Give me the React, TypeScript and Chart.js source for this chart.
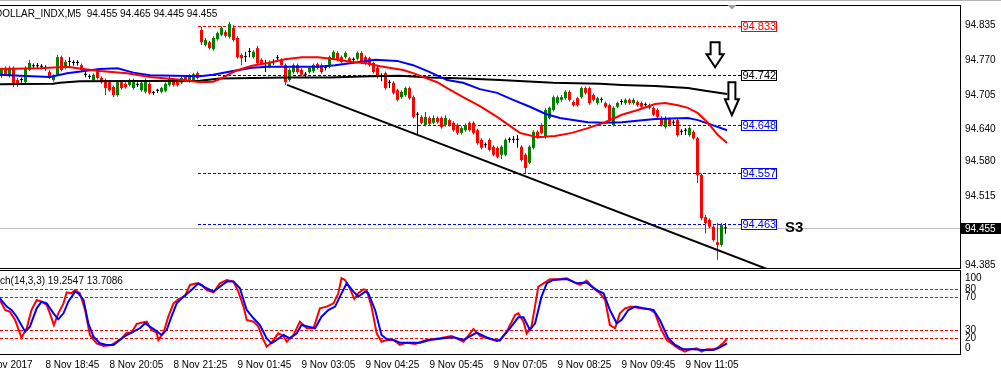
import React, { useEffect, useRef } from 'react';
import { Chart, registerables } from 'chart.js';

Chart.register(...registerables);

const FONT = '"Liberation Sans", Arial, sans-serif';

// ---------- data ----------
const SYMBOL_TITLE = 'DOLLAR_INDX,M5';
const STOCH_TITLE = 'Stoch(14,3,3)';
const STOCH_LAST = [19.2547, 13.7086];

const OPEN = [
  94.741, 94.756, 94.741, 94.756, 94.733, 94.733, 94.729, 94.752, 94.759, 94.759,
  94.758, 94.756, 94.748, 94.733, 94.743, 94.776, 94.756, 94.767, 94.765, 94.765,
  94.761, 94.743, 94.739, 94.733, 94.752, 94.737, 94.733, 94.729, 94.720, 94.705,
  94.729, 94.726, 94.724, 94.718, 94.724, 94.714, 94.711, 94.726, 94.709, 94.713,
  94.711, 94.713, 94.724, 94.733, 94.731, 94.728, 94.739, 94.731, 94.733, 94.746,
  94.827, 94.799, 94.804, 94.791, 94.810, 94.818, 94.823, 94.814, 94.831, 94.812,
  94.780, 94.776, 94.786, 94.776, 94.793, 94.771, 94.758, 94.758, 94.767, 94.774,
  94.771, 94.761, 94.733, 94.748, 94.761, 94.752, 94.743, 94.748, 94.750, 94.763,
  94.761, 94.756, 94.758, 94.774, 94.784, 94.776, 94.776, 94.774, 94.771, 94.773,
  94.784, 94.776, 94.774, 94.765, 94.756, 94.739, 94.746, 94.728, 94.728, 94.714,
  94.701, 94.705, 94.718, 94.701, 94.668, 94.664, 94.649, 94.662, 94.653, 94.662,
  94.662, 94.649, 94.658, 94.653, 94.649, 94.634, 94.639, 94.653, 94.653, 94.639,
  94.621, 94.611, 94.621, 94.608, 94.606, 94.593, 94.593, 94.621, 94.621, 94.621,
  94.608, 94.593, 94.578, 94.606, 94.636, 94.649, 94.626, 94.662, 94.677, 94.690,
  94.696, 94.699, 94.711, 94.692, 94.699, 94.701, 94.718, 94.718, 94.705, 94.690,
  94.696, 94.690, 94.686, 94.649, 94.683, 94.692, 94.690, 94.696, 94.690, 94.692,
  94.690, 94.686, 94.686, 94.681, 94.677, 94.662, 94.645, 94.660, 94.653, 94.658,
  94.636, 94.638, 94.630, 94.636, 94.624, 94.555, 94.476, 94.471, 94.458, 94.429,
  94.424, 94.455,
];
const HIGH = [
  94.756, 94.759, 94.760, 94.759, 94.737, 94.738, 94.759, 94.771, 94.764, 94.765,
  94.763, 94.761, 94.752, 94.744, 94.780, 94.779, 94.771, 94.776, 94.770, 94.770,
  94.764, 94.748, 94.744, 94.746, 94.755, 94.740, 94.736, 94.732, 94.723, 94.732,
  94.732, 94.729, 94.736, 94.736, 94.729, 94.731, 94.736, 94.729, 94.713, 94.717,
  94.721, 94.729, 94.741, 94.737, 94.735, 94.740, 94.742, 94.744, 94.747, 94.749,
  94.833, 94.812, 94.807, 94.815, 94.824, 94.834, 94.827, 94.842, 94.836, 94.815,
  94.783, 94.786, 94.793, 94.789, 94.797, 94.774, 94.771, 94.770, 94.772, 94.780,
  94.774, 94.764, 94.755, 94.764, 94.764, 94.755, 94.748, 94.759, 94.764, 94.766,
  94.764, 94.761, 94.779, 94.789, 94.787, 94.779, 94.787, 94.777, 94.776, 94.787,
  94.787, 94.779, 94.777, 94.768, 94.759, 94.746, 94.749, 94.733, 94.731, 94.717,
  94.714, 94.721, 94.721, 94.704, 94.673, 94.667, 94.673, 94.665, 94.667, 94.665,
  94.665, 94.667, 94.661, 94.656, 94.652, 94.646, 94.652, 94.656, 94.656, 94.642,
  94.624, 94.616, 94.624, 94.611, 94.609, 94.611, 94.624, 94.626, 94.628, 94.630,
  94.611, 94.596, 94.611, 94.639, 94.639, 94.652, 94.680, 94.684, 94.704, 94.704,
  94.705, 94.714, 94.714, 94.695, 94.702, 94.721, 94.721, 94.721, 94.708, 94.702,
  94.701, 94.693, 94.689, 94.684, 94.693, 94.697, 94.699, 94.699, 94.699, 94.695,
  94.693, 94.691, 94.689, 94.684, 94.680, 94.665, 94.665, 94.663, 94.658, 94.661,
  94.641, 94.643, 94.646, 94.639, 94.627, 94.558, 94.480, 94.474, 94.461, 94.465,
  94.465, 94.465,
];
const LOW = [
  94.737, 94.741, 94.738, 94.720, 94.720, 94.728, 94.726, 94.750, 94.754, 94.755,
  94.753, 94.751, 94.735, 94.730, 94.741, 94.749, 94.753, 94.756, 94.760, 94.760,
  94.749, 94.738, 94.735, 94.730, 94.734, 94.726, 94.705, 94.711, 94.701, 94.702,
  94.715, 94.717, 94.721, 94.715, 94.720, 94.711, 94.708, 94.706, 94.705, 94.709,
  94.708, 94.710, 94.721, 94.721, 94.721, 94.725, 94.730, 94.728, 94.730, 94.734,
  94.799, 94.796, 94.790, 94.788, 94.807, 94.815, 94.813, 94.811, 94.805, 94.773,
  94.761, 94.767, 94.776, 94.773, 94.762, 94.762, 94.748, 94.755, 94.762, 94.767,
  94.758, 94.724, 94.730, 94.745, 94.745, 94.740, 94.738, 94.745, 94.747, 94.753,
  94.745, 94.751, 94.755, 94.771, 94.768, 94.764, 94.773, 94.764, 94.766, 94.770,
  94.764, 94.762, 94.758, 94.745, 94.736, 94.731, 94.715, 94.718, 94.706, 94.693,
  94.698, 94.702, 94.696, 94.661, 94.630, 94.650, 94.646, 94.648, 94.650, 94.651,
  94.642, 94.646, 94.646, 94.636, 94.630, 94.631, 94.636, 94.636, 94.631, 94.612,
  94.603, 94.606, 94.599, 94.590, 94.586, 94.585, 94.590, 94.616, 94.615, 94.606,
  94.580, 94.559, 94.575, 94.603, 94.623, 94.631, 94.623, 94.659, 94.674, 94.687,
  94.692, 94.696, 94.693, 94.683, 94.683, 94.698, 94.706, 94.687, 94.693, 94.687,
  94.691, 94.680, 94.655, 94.646, 94.680, 94.687, 94.687, 94.687, 94.687, 94.683,
  94.680, 94.681, 94.678, 94.665, 94.661, 94.646, 94.642, 94.646, 94.648, 94.627,
  94.630, 94.630, 94.627, 94.621, 94.540, 94.470, 94.446, 94.455, 94.430, 94.396,
  94.421, 94.445,
];
const CLOSE = [
  94.752, 94.744, 94.756, 94.724, 94.724, 94.733, 94.756, 94.765, 94.759, 94.759,
  94.758, 94.756, 94.737, 94.741, 94.776, 94.752, 94.767, 94.767, 94.765, 94.765,
  94.752, 94.743, 94.739, 94.743, 94.737, 94.729, 94.718, 94.714, 94.705, 94.729,
  94.718, 94.720, 94.733, 94.733, 94.724, 94.728, 94.733, 94.709, 94.709, 94.713,
  94.718, 94.726, 94.737, 94.724, 94.724, 94.737, 94.733, 94.741, 94.744, 94.737,
  94.804, 94.808, 94.793, 94.812, 94.821, 94.831, 94.816, 94.838, 94.808, 94.776,
  94.774, 94.776, 94.786, 94.786, 94.765, 94.765, 94.758, 94.767, 94.767, 94.774,
  94.761, 94.729, 94.752, 94.761, 94.748, 94.743, 94.743, 94.756, 94.761, 94.756,
  94.748, 94.756, 94.776, 94.786, 94.771, 94.767, 94.784, 94.767, 94.771, 94.784,
  94.767, 94.765, 94.761, 94.748, 94.739, 94.739, 94.718, 94.728, 94.709, 94.696,
  94.711, 94.718, 94.699, 94.664, 94.668, 94.653, 94.664, 94.651, 94.662, 94.654,
  94.645, 94.662, 94.649, 94.639, 94.634, 94.643, 94.649, 94.639, 94.634, 94.615,
  94.606, 94.611, 94.602, 94.593, 94.589, 94.608, 94.621, 94.621, 94.621, 94.621,
  94.583, 94.568, 94.608, 94.636, 94.626, 94.634, 94.677, 94.681, 94.701, 94.701,
  94.701, 94.711, 94.696, 94.686, 94.686, 94.718, 94.709, 94.690, 94.696, 94.699,
  94.696, 94.683, 94.658, 94.681, 94.690, 94.692, 94.696, 94.690, 94.696, 94.686,
  94.683, 94.686, 94.681, 94.668, 94.664, 94.649, 94.662, 94.649, 94.653, 94.630,
  94.636, 94.638, 94.643, 94.624, 94.555, 94.474, 94.465, 94.458, 94.433, 94.424,
  94.461, 94.455,
];

// moving averages (bar position, price)
const MA_FAST_BARS = [-0.4, 9.6, 16.4, 20.4, 24.6, 31.4, 37.1, 45.4, 49.6, 52.9, 54.6, 58.4, 62.6, 66.6, 70.9, 75.1, 79.1, 83.4, 87.6, 91.6, 94.6, 100.4, 102.9, 108.9, 111.4, 115.4, 119.6, 123.9, 125.4, 129.6, 133.9, 138.4, 142.6, 146.6, 150.9, 155.1, 159.1, 163.4, 165.9, 169.1, 171.6, 174.1, 176.6, 179.1, 181.4];
const MA_FAST_VALUES = [94.754, 94.755, 94.758, 94.754, 94.750, 94.746, 94.739, 94.733, 94.729, 94.730, 94.735, 94.750, 94.760, 94.765, 94.772, 94.776, 94.776, 94.772, 94.767, 94.764, 94.759, 94.752, 94.746, 94.729, 94.718, 94.701, 94.684, 94.664, 94.656, 94.634, 94.626, 94.628, 94.634, 94.643, 94.654, 94.668, 94.677, 94.688, 94.690, 94.686, 94.681, 94.671, 94.653, 94.630, 94.615];
const MA_MID_BARS = [-0.4, 4.6, 12.1, 16.4, 24.6, 29.0, 33.0, 37.1, 49.6, 52.9, 57.9, 62.6, 66.6, 79.1, 83.4, 87.6, 93.4, 98.9, 102.9, 107.1, 111.4, 115.4, 119.6, 123.9, 127.9, 132.1, 135.9, 139.6, 146.6, 150.9, 155.1, 163.4, 171.6, 174.1, 177.6, 181.4];
const MA_MID_VALUES = [94.743, 94.741, 94.739, 94.746, 94.754, 94.755, 94.747, 94.742, 94.740, 94.743, 94.750, 94.756, 94.758, 94.758, 94.761, 94.765, 94.771, 94.769, 94.761, 94.748, 94.733, 94.728, 94.716, 94.709, 94.696, 94.683, 94.670, 94.662, 94.654, 94.653, 94.654, 94.660, 94.662, 94.658, 94.649, 94.639];
const MA_SLOW_BARS = [-0.4, 12.9, 14.6, 19.6, 49.6, 54.6, 71.4, 82.1, 92.1, 99.6, 107.1, 115.9, 124.6, 137.9, 149.6, 155.1, 163.4, 171.6, 175.9, 181.4];
const MA_SLOW_VALUES = [94.725, 94.726, 94.728, 94.731, 94.732, 94.736, 94.738, 94.738, 94.740, 94.741, 94.738, 94.736, 94.733, 94.728, 94.726, 94.724, 94.722, 94.718, 94.713, 94.707];

const TREND_BARS = [71.4, 200];
const TREND_VALUES = [94.724, 94.354];

const LEVEL_VALUES = [94.833, 94.742, 94.648, 94.557, 94.463];
const LEVEL_COLORS = ['#ff0000', '#000000', '#0000ff', '#0000ff', '#0000ff'];
const LEVEL_FROM_BAR = 49.1;
const LEVEL_TO_BAR = 184.9;

const ARROW_BARS = [178.4, 182.6];
const ARROW_PRICES = [94.804, 94.729];
const TEXT_MARK = 'S3';
const TEXT_MARK_BAR = 195.9;
const TEXT_MARK_PRICE = 94.456;
const SHIFT_MARK_BAR = 182.6;

const PRICE_TICKS = [94.835, 94.770, 94.705, 94.640, 94.580, 94.515, 94.385];
const PRICE_MIN = 94.3788;
const PRICE_MAX = 94.8738;

const TIME_TICK_BARS = [-5, 11, 27, 43, 59, 75, 91, 107, 123, 139, 155, 171];
const TIME_TICK_LABELS = ['8 Nov 2017', '8 Nov 18:45', '8 Nov 20:05', '8 Nov 21:25', '9 Nov 01:45', '9 Nov 03:05', '9 Nov 04:25', '9 Nov 05:45', '9 Nov 07:05', '9 Nov 08:25', '9 Nov 09:45', '9 Nov 11:05'];

const STOCH_K_BARS = [-0.4, 0.9, 2.1, 3.4, 5.0, 6.3, 7.5, 8.8, 10.0, 11.3, 12.1, 13.1, 14.2, 15.5, 16.3, 17.5, 18.4, 19.6, 20.9, 22.1, 23.8, 25.5, 27.5, 28.8, 30.0, 31.3, 32.5, 33.8, 35.0, 36.3, 37.5, 38.8, 39.2, 40.5, 41.7, 43.0, 44.2, 45.9, 47.1, 48.8, 50.0, 51.3, 53.0, 54.6, 56.3, 58.0, 59.2, 60.5, 61.3, 63.0, 64.2, 65.5, 66.3, 67.5, 69.2, 70.5, 71.3, 73.0, 74.6, 76.3, 78.0, 79.6, 81.3, 83.0, 84.2, 85.0, 85.9, 87.1, 88.2, 89.2, 90.5, 91.3, 92.5, 93.8, 95.0, 96.3, 98.0, 99.6, 101.3, 103.4, 106.3, 109.6, 112.5, 115.5, 118.0, 119.6, 122.1, 124.6, 126.3, 128.4, 129.2, 130.5, 131.3, 132.5, 134.2, 135.5, 137.1, 139.2, 141.3, 143.4, 144.6, 146.3, 148.0, 149.6, 150.9, 152.1, 153.4, 154.6, 155.9, 157.5, 159.6, 162.1, 163.4, 164.6, 166.3, 167.5, 169.2, 170.9, 172.1, 173.8, 175.0, 176.3, 178.0, 179.2, 180.5, 181.4];
const STOCH_K_VALUES = [66.8, 54.6, 52.5, 42.3, 20.7, 32.2, 54.6, 66.8, 64.8, 60.7, 50.5, 36.2, 50.5, 62.7, 76.2, 75, 79, 75, 54.6, 24, 13.8, 10.5, 11.8, 15.8, 19.9, 26.8, 26.8, 37.5, 39.1, 40.3, 30.1, 26.8, 17.9, 26.8, 46.4, 62.7, 67.6, 71.7, 85.2, 87.2, 85.2, 79, 76.2, 87.2, 91.3, 89.3, 77, 58.7, 42.3, 40.3, 34.2, 17.9, 9.7, 14.6, 26, 22.8, 15.8, 24, 40.3, 32.2, 32.2, 56.6, 58.7, 62.7, 75, 93.4, 91.3, 81.1, 68, 75, 79.9, 79, 58.7, 26, 15.8, 17.9, 17.9, 11.8, 14.6, 13, 17.9, 19.9, 22.8, 15.8, 31.3, 22.8, 19.1, 17, 28.1, 48.5, 50.5, 40.3, 26, 34.2, 83, 87.2, 92.1, 92.1, 93.4, 88.1, 85.2, 90.5, 81.1, 75, 66.8, 36.2, 32.2, 50.5, 56.6, 58.7, 56.6, 55.4, 50.5, 34.2, 17.9, 13.8, 7.7, 3.6, 6.4, 7.7, 3.6, 6.4, 6.4, 8.9, 14.6, 19.25];
const STOCH_D_BARS = [-0.4, 1.3, 2.5, 3.8, 5.9, 7.1, 8.8, 10.0, 11.3, 13.0, 14.2, 15.5, 16.7, 18.4, 19.2, 20.5, 21.7, 23.0, 24.6, 26.3, 28.0, 29.6, 31.3, 33.0, 34.6, 35.9, 37.1, 38.4, 40.0, 41.3, 42.5, 43.8, 45.5, 47.5, 49.2, 50.9, 53.0, 54.6, 56.3, 58.0, 59.6, 61.3, 63.0, 64.6, 66.3, 67.5, 68.8, 70.5, 72.1, 73.8, 75.0, 76.7, 78.4, 80.0, 81.7, 83.4, 84.6, 86.3, 88.0, 89.2, 90.9, 91.7, 93.4, 95.0, 96.3, 98.0, 99.6, 102.1, 104.6, 107.1, 110.5, 113.0, 115.5, 118.8, 121.3, 123.8, 124.6, 127.1, 129.2, 130.5, 132.1, 133.4, 135.0, 136.3, 137.9, 141.3, 143.8, 146.3, 148.8, 150.5, 152.1, 153.8, 155.0, 156.7, 158.4, 160.5, 163.0, 164.6, 166.7, 168.4, 170.5, 173.0, 175.5, 178.0, 179.6, 181.4];
const STOCH_D_VALUES = [68.9, 58.7, 54.6, 46.4, 28.1, 34.2, 56.6, 64.8, 62.7, 50.5, 43.2, 50.5, 64.8, 77, 75, 66.8, 38.3, 21.9, 13.8, 11.8, 11.8, 17.9, 24, 28.1, 32.2, 38.3, 34.2, 30.1, 24, 30.1, 46.4, 62.7, 70.9, 79, 87.2, 82.3, 77, 83.1, 89.3, 89.3, 81.1, 54.6, 44.4, 36.2, 19.9, 13.8, 17.9, 24, 19.9, 26, 36.2, 34.2, 32.2, 46.4, 54.6, 58.7, 70.9, 87.2, 77, 70.9, 77, 75, 54.6, 24, 19.1, 17.9, 14.6, 14.6, 14.6, 17.9, 19.9, 21.1, 17.9, 26.8, 21.1, 16.6, 17.9, 32.2, 45.6, 45.6, 30.1, 38.3, 70.9, 87.2, 91.3, 92.5, 87.2, 88.1, 79, 75, 54.6, 38.3, 42.3, 54.6, 58.7, 56.6, 54.6, 42.3, 19.9, 11.8, 6.4, 6.4, 5.6, 5.6, 8.9, 13.7086];
const STOCH_LEVELS = [80, 70, 30, 20];
const STOCH_TICKS = [100, 80, 70, 30, 20, 0];
const STOCH_MIN = 0.73;
const STOCH_MAX = 102.3;

// ---------- styles / layout ----------
const X_MIN = -0.375;
const X_MAX = 239.625;
const UP = '#008000';
const DOWN = '#ff0000';
const DOJI = '#000000';
const ARROW_SIZES = [
  { w: 17, h: 25, stem: 9, head: 13 },
  { w: 14, h: 33, stem: 7, head: 16 },
];

const pts = (xs: number[], ys: number[]) => xs.map((x, i) => ({ x, y: ys[i] }));
const rowOf = (p: number) => Math.round(p - 0.5);

function drawDownArrow(ctx: CanvasRenderingContext2D, cx: number, top: number, s: any) {
  const half = s.w / 2, sh = s.stem / 2, neck = top + s.h - s.head;
  ctx.beginPath();
  ctx.moveTo(cx - sh, top);
  ctx.lineTo(cx + sh, top);
  ctx.lineTo(cx + sh, neck);
  ctx.lineTo(cx + half, neck);
  ctx.lineTo(cx, top + s.h);
  ctx.lineTo(cx - half, neck);
  ctx.lineTo(cx - sh, neck);
  ctx.closePath();
  ctx.fillStyle = '#ffffff';
  ctx.fill();
  ctx.lineWidth = 2;
  ctx.strokeStyle = '#000000';
  ctx.lineJoin = 'miter';
  ctx.stroke();
}

const mainOverlay = {
  id: 'mainOverlay',
  beforeDatasetsDraw(chart: any) {
    const { ctx, chartArea: a, scales } = chart;
    const x = scales.x, y = scales.y;
    ctx.save();
    const last = CLOSE[CLOSE.length - 1];
    const by = rowOf(y.getPixelForValue(last)) + 0.5;
    ctx.strokeStyle = '#c0c0c0';
    ctx.lineWidth = 1;
    ctx.beginPath();
    ctx.moveTo(a.left, by);
    ctx.lineTo(a.right, by);
    ctx.stroke();
    ctx.setLineDash([3, 2]);
    LEVEL_VALUES.forEach((v, k) => {
      const ly = rowOf(y.getPixelForValue(v)) + 0.5;
      ctx.strokeStyle = LEVEL_COLORS[k];
      ctx.beginPath();
      ctx.moveTo(Math.round(x.getPixelForValue(LEVEL_FROM_BAR)), ly);
      ctx.lineTo(Math.round(x.getPixelForValue(LEVEL_TO_BAR)), ly);
      ctx.stroke();
    });
    ctx.restore();
  },
  afterDraw(chart: any) {
    const { ctx, chartArea: a, scales } = chart;
    const x = scales.x, y = scales.y;
    ctx.save();
    // frame
    ctx.fillStyle = '#b4b4b4';
    ctx.fillRect(0, 0, chart.width, 1);
    ctx.fillStyle = '#000000';
    ctx.fillRect(0, a.top, a.right + 1, 1);
    ctx.fillRect(0, a.bottom - 1, a.right + 1, 1);
    ctx.fillRect(a.right, a.top, 1, a.bottom - a.top);
    // shift marker
    const sx = x.getPixelForValue(SHIFT_MARK_BAR);
    ctx.fillStyle = '#a0a0a0';
    ctx.beginPath();
    ctx.moveTo(sx - 4.5, a.top);
    ctx.lineTo(sx + 4.5, a.top);
    ctx.lineTo(sx, a.top + 4.5);
    ctx.closePath();
    ctx.fill();
    // level boxes
    ctx.font = `11px ${FONT}`;
    ctx.textBaseline = 'middle';
    ctx.textAlign = 'left';
    ctx.lineWidth = 1;
    LEVEL_VALUES.forEach((v, k) => {
      const r = rowOf(y.getPixelForValue(v));
      const bx = Math.round(x.getPixelForValue(LEVEL_TO_BAR));
      ctx.fillStyle = '#ffffff';
      ctx.fillRect(bx, r - 5, 36, 11);
      ctx.strokeStyle = LEVEL_COLORS[k];
      ctx.strokeRect(bx + 0.5, r - 4.5, 35, 10);
      ctx.fillStyle = LEVEL_COLORS[k];
      ctx.fillText(v.toFixed(3), bx + 1.5, r + 1);
    });
    // arrows
    ARROW_BARS.forEach((b, k) => {
      drawDownArrow(ctx, x.getPixelForValue(b), y.getPixelForValue(ARROW_PRICES[k]), ARROW_SIZES[k]);
    });
    // S3 text
    ctx.fillStyle = '#000000';
    ctx.font = `bold 15px ${FONT}`;
    ctx.textBaseline = 'middle';
    ctx.fillText(TEXT_MARK, x.getPixelForValue(TEXT_MARK_BAR), y.getPixelForValue(TEXT_MARK_PRICE));
    // header
    ctx.font = `10px ${FONT}`;
    const n = CLOSE.length - 1;
    const head = `${SYMBOL_TITLE}  ${OPEN[n].toFixed(3)} ${HIGH[n].toFixed(3)} ${LOW[n].toFixed(3)} ${CLOSE[n].toFixed(3)}`;
    ctx.fillText(head, -5, 14);
    // price tag
    const r = rowOf(y.getPixelForValue(CLOSE[n]));
    ctx.fillStyle = '#000000';
    ctx.fillRect(a.right + 1, r - 5, chart.width - a.right - 1, 11);
    ctx.fillStyle = '#ffffff';
    ctx.fillText(CLOSE[n].toFixed(3), a.right + 5, r + 1);
    ctx.restore();
  },
};

const stochOverlay = {
  id: 'stochOverlay',
  beforeDatasetsDraw(chart: any) {
    const { ctx, chartArea: a, scales } = chart;
    const y = scales.y;
    ctx.save();
    ctx.strokeStyle = '#ff0000';
    ctx.lineWidth = 1;
    ctx.setLineDash([3, 2]);
    STOCH_LEVELS.forEach((v) => {
      const ly = rowOf(y.getPixelForValue(v)) + 0.5;
      ctx.beginPath();
      ctx.moveTo(a.left, ly);
      ctx.lineTo(a.right, ly);
      ctx.stroke();
    });
    ctx.restore();
  },
  afterDraw(chart: any) {
    const { ctx, chartArea: a } = chart;
    ctx.save();
    ctx.fillStyle = '#000000';
    ctx.fillRect(0, 0, a.right + 1, 1);
    ctx.fillRect(0, a.bottom, a.right + 1, 1);
    ctx.fillRect(a.right, 0, 1, a.bottom + 1);
    ctx.font = `10px ${FONT}`;
    ctx.textBaseline = 'middle';
    ctx.textAlign = 'left';
    ctx.fillText(`${STOCH_TITLE} ${STOCH_LAST[0].toFixed(4)} ${STOCH_LAST[1].toFixed(4)}`, -15, 11);
    ctx.restore();
  },
};

function mainConfig(): any {
  const colors = OPEN.map((o, i) => (CLOSE[i] > o ? UP : CLOSE[i] < o ? DOWN : DOJI));
  return {
    type: 'bar',
    data: {
      datasets: [
        { type: 'line', data: pts(TREND_BARS, TREND_VALUES), borderColor: '#000000', borderWidth: 2, pointRadius: 0, tension: 0, clip: 0 },
        { type: 'line', data: pts(MA_FAST_BARS, MA_FAST_VALUES), borderColor: '#ff0000', borderWidth: 2, pointRadius: 0, tension: 0, clip: 0 },
        { type: 'line', data: pts(MA_MID_BARS, MA_MID_VALUES), borderColor: '#0000ff', borderWidth: 2, pointRadius: 0, tension: 0, clip: 0 },
        { type: 'line', data: pts(MA_SLOW_BARS, MA_SLOW_VALUES), borderColor: '#000000', borderWidth: 2, pointRadius: 0, tension: 0, clip: 0 },
        {
          type: 'bar', data: OPEN.map((o, i) => ({ x: i, y: [o, CLOSE[i]] })),
          backgroundColor: colors, barThickness: 3, grouped: false, minBarLength: 1, borderWidth: 0, inflateAmount: 0, clip: 0,
        },
        {
          type: 'bar', data: OPEN.map((o, i) => ({ x: i, y: [LOW[i], HIGH[i]] })),
          backgroundColor: colors, barThickness: 1, grouped: false, borderWidth: 0, inflateAmount: 0, clip: 0,
        },
      ],
    },
    options: {
      animation: false,
      responsive: false,
      devicePixelRatio: 1,
      events: [],
      layout: { padding: { top: 5, bottom: 1, left: 0, right: 0 } },
      plugins: { legend: { display: false }, tooltip: { enabled: false }, title: { display: false } },
      scales: {
        x: { type: 'linear', display: false, min: X_MIN, max: X_MAX, offset: false },
        y: {
          type: 'linear', position: 'right', min: PRICE_MIN, max: PRICE_MAX,
          grid: { display: false, drawTicks: false }, border: { display: false },
          afterBuildTicks: (s: any) => { s.ticks = PRICE_TICKS.map((v) => ({ value: v })); },
          afterFit: (s: any) => { s.width = 41; s.paddingTop = 0; s.paddingBottom = 0; },
          ticks: {
            padding: 5, color: '#000000', autoSkip: false, font: { family: FONT, size: 10 },
            callback: (_v: any, i: number) => PRICE_TICKS[i].toFixed(3),
          },
        },
      },
    },
    plugins: [mainOverlay],
  };
}

function stochConfig(): any {
  return {
    type: 'line',
    data: {
      datasets: [
        { data: pts(STOCH_D_BARS, STOCH_D_VALUES), borderColor: '#0000ff', borderWidth: 2, pointRadius: 0, tension: 0, clip: 0 },
        { data: pts(STOCH_K_BARS, STOCH_K_VALUES), borderColor: '#ff0000', borderWidth: 2, pointRadius: 0, tension: 0, clip: 0 },
      ],
    },
    options: {
      animation: false,
      responsive: false,
      devicePixelRatio: 1,
      events: [],
      layout: { padding: { top: 1, bottom: 0, left: 0, right: 0 } },
      plugins: { legend: { display: false }, tooltip: { enabled: false }, title: { display: false } },
      scales: {
        x: {
          type: 'linear', position: 'bottom', min: X_MIN, max: X_MAX, offset: false,
          grid: { display: false, drawTicks: false }, border: { display: false },
          afterBuildTicks: (s: any) => { s.ticks = TIME_TICK_BARS.map((v) => ({ value: v })); },
          afterFit: (s: any) => { s.height = 22; s.paddingLeft = 0; s.paddingRight = 0; },
          ticks: {
            align: 'start', padding: 5, maxRotation: 0, minRotation: 0, autoSkip: false,
            color: '#000000', font: { family: FONT, size: 10 },
            callback: (_v: any, i: number) => TIME_TICK_LABELS[i],
          },
        },
        y: {
          type: 'linear', position: 'right', min: STOCH_MIN, max: STOCH_MAX,
          grid: { display: false, drawTicks: false }, border: { display: false },
          // labels at the panel edges are kept inside the panel, as the terminal does
          afterBuildTicks: (s: any) => { s.ticks = STOCH_TICKS.map((v) => ({ value: Math.min(Math.max(v, 7.2), 93.4) })); },
          afterFit: (s: any) => { s.width = 41; s.paddingTop = 0; s.paddingBottom = 0; },
          ticks: {
            padding: 5, color: '#000000', autoSkip: false, font: { family: FONT, size: 10 },
            callback: (_v: any, i: number) => String(STOCH_TICKS[i]),
          },
        },
      },
    },
    plugins: [stochOverlay],
  };
}

export default function App() {
  const mainRef = useRef<HTMLCanvasElement>(null);
  const stochRef = useRef<HTMLCanvasElement>(null);
  useEffect(() => {
    document.body.style.margin = '0';
    const c1 = new Chart(mainRef.current as HTMLCanvasElement, mainConfig());
    const c2 = new Chart(stochRef.current as HTMLCanvasElement, stochConfig());
    return () => {
      c1.destroy();
      c2.destroy();
    };
  }, []);
  return (
    <div style={{ position: 'fixed', left: 0, top: 0, width: 1001, height: 376, background: '#ffffff', overflow: 'hidden' }}>
      <canvas ref={mainRef} width={1001} height={270} style={{ position: 'absolute', left: 0, top: 0, width: 1001, height: 270 }} />
      <canvas ref={stochRef} width={1001} height={106} style={{ position: 'absolute', left: 0, top: 270, width: 1001, height: 106 }} />
    </div>
  );
}
